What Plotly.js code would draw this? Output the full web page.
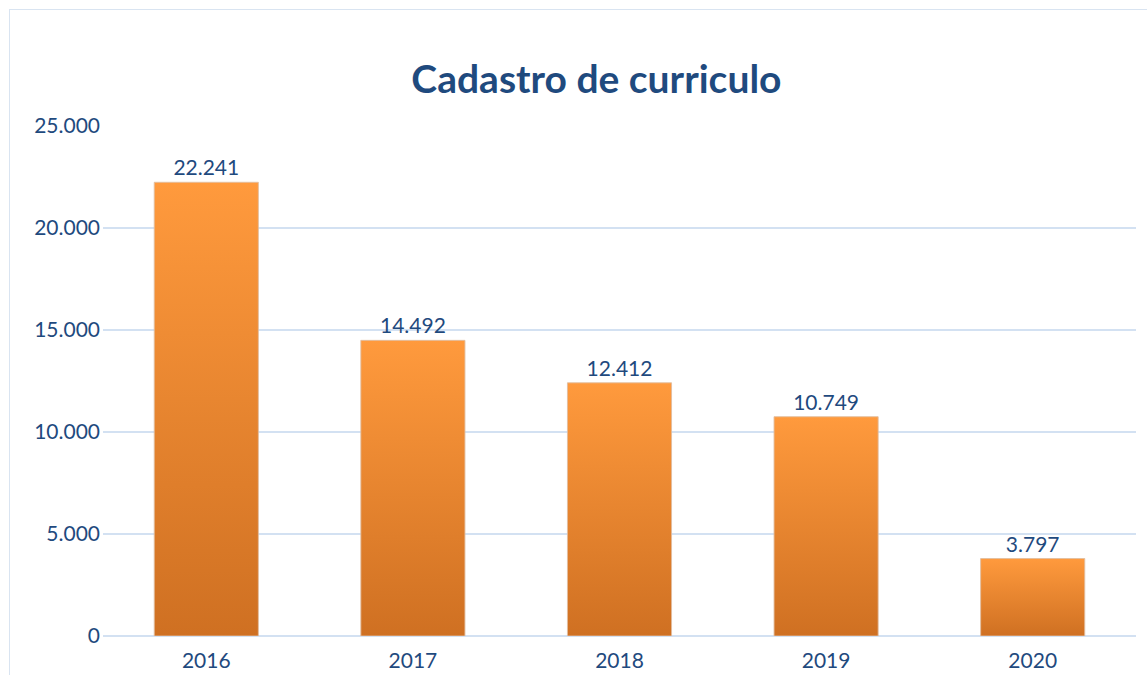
<!DOCTYPE html>
<html>
<head>
<meta charset="utf-8">
<script src="https://cdn.plot.ly/plotly-3.0.1.min.js"></script>
<style>
  html, body { margin: 0; padding: 0; background: #fff; }
  #frame { position: absolute; left: 9px; top: 9px; right: -5px; bottom: -5px;
           border-left: 1.5px solid #d9e4f1; border-top: 1.5px solid #d9e4f1; }
  #chart { position: absolute; left: 0; top: 0; width: 1147px; height: 675px; }
</style>
</head>
<body>
<div id="frame"></div>
<div id="chart"></div>
<script>
// Cadastro de curriculo — yearly registrations
const years = ['2016', '2017', '2018', '2019', '2020'];
const counts = [22241, 14492, 12412, 10749, 3797];

const TXT = '#1f4a7e';
const GRID = '#d3e1f2';

Plotly.newPlot('chart', [{
  type: 'bar',
  x: years,
  y: counts,
  marker: { color: '#f28a32', line: { color: 'rgba(225,190,160,0.9)', width: 1 } },
  texttemplate: '%{y:,d}',
  textposition: 'outside',
  textfont: { family: 'Lato, sans-serif', size: 21, color: TXT },
  cliponaxis: false,
  hoverinfo: 'x+y',
}], {
  width: 1147, height: 675,
  margin: { l: 103, r: 11, t: 126, b: 39 },
  paper_bgcolor: 'rgba(0,0,0,0)',
  plot_bgcolor: 'rgba(0,0,0,0)',
  separators: ',.',
  bargap: 0.496,
  showlegend: false,
  font: { family: 'Lato, sans-serif', size: 21, color: TXT },
  title: {
    text: '<b>Cadastro de curriculo</b>',
    font: { family: 'Lato, sans-serif', size: 39, color: TXT },
    x: 0.52, xanchor: 'center', y: 0.882, yanchor: 'middle',
  },
  xaxis: { showgrid: false, showline: false, zeroline: false, ticks: '', ticklabelstandoff: 10 },
  yaxis: {
    range: [0, 25000], dtick: 5000, tickformat: ',d',
    gridcolor: GRID, gridwidth: 2, zeroline: true, zerolinecolor: GRID, zerolinewidth: 2,
    showline: false, ticks: '', ticklabelstandoff: 2,
  },
}, { displayModeBar: false, staticPlot: true }).then(gd => {
  // vertical orange gradient on every bar, like the spreadsheet original
  const svg = gd.querySelector('svg.main-svg');
  const ns = 'http://www.w3.org/2000/svg';
  const defs = svg.querySelector('defs') || svg.insertBefore(document.createElementNS(ns, 'defs'), svg.firstChild);
  const lg = document.createElementNS(ns, 'linearGradient');
  lg.setAttribute('id', 'barGrad');
  lg.setAttribute('x1', '0'); lg.setAttribute('y1', '0');
  lg.setAttribute('x2', '0'); lg.setAttribute('y2', '1');
  [['0', '#ff9a3d'], ['1', '#cf7022']].forEach(([o, c]) => {
    const s = document.createElementNS(ns, 'stop');
    s.setAttribute('offset', o); s.setAttribute('stop-color', c);
    lg.appendChild(s);
  });
  defs.appendChild(lg);
  gd.querySelectorAll('.bars .point path').forEach(p => { p.style.fill = 'url(#barGrad)'; });
});
</script>
</body>
</html>
